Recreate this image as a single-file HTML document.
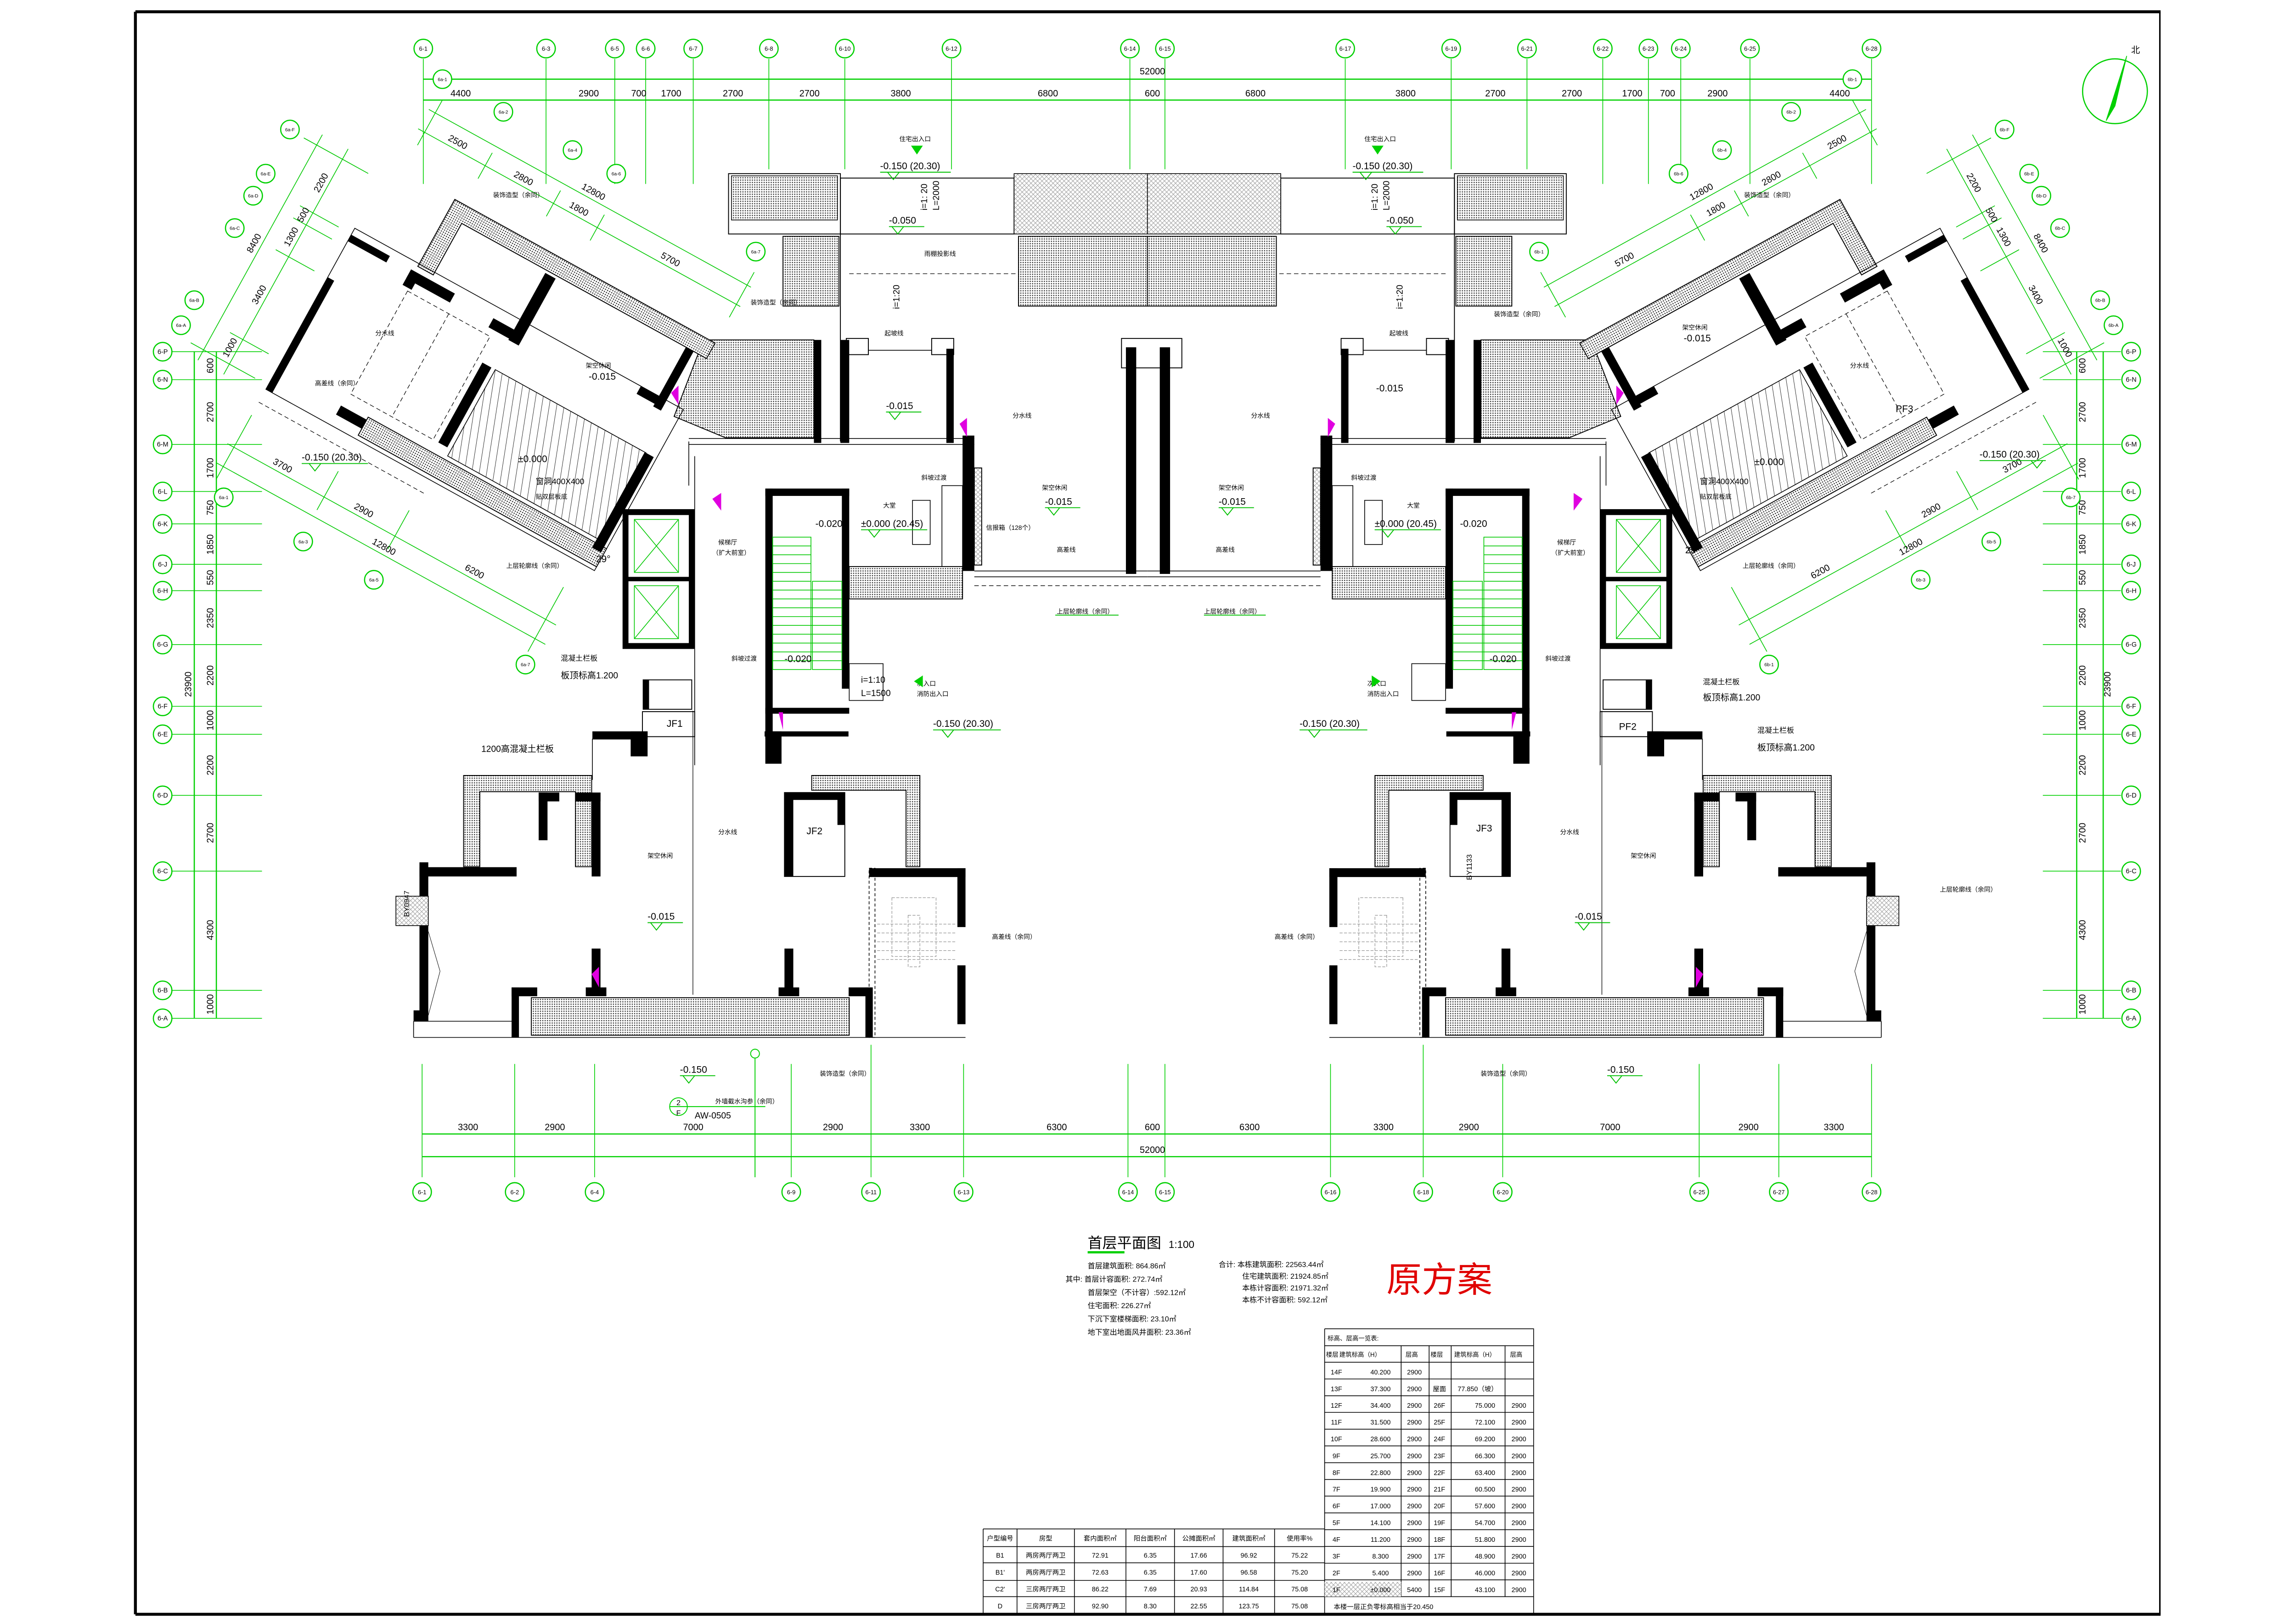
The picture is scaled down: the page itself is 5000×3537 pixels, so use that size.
<!DOCTYPE html>
<html><head><meta charset="utf-8">
<style>
html,body{margin:0;padding:0;background:#fff;}
svg{display:block;}
text{font-family:"Liberation Sans","Noto Sans CJK SC",sans-serif;}
</style></head>
<body>
<svg xmlns="http://www.w3.org/2000/svg" xmlns:xlink="http://www.w3.org/1999/xlink" width="5000" height="3537" viewBox="0 0 1560 1103.6" preserveAspectRatio="none">
<defs>
<pattern id="dots" width="1.6" height="1.6" patternUnits="userSpaceOnUse"><rect width="1.6" height="1.6" fill="#fff"/><circle cx="0.8" cy="0.8" r="0.42" fill="#333"/></pattern>
<pattern id="cross" width="3" height="3" patternUnits="userSpaceOnUse"><rect width="3" height="3" fill="#fff"/><path d="M0 0L3 3M3 0L0 3" stroke="#999" stroke-width="0.3"/></pattern>
<pattern id="diag" width="5" height="5" patternUnits="userSpaceOnUse" patternTransform="rotate(-20)"><rect width="5" height="5" fill="#fff"/><line x1="0" y1="0" x2="0" y2="5" stroke="#000" stroke-width="0.5"/></pattern>
<g id="bub"><circle r="6.3" fill="#fff" stroke="#00d000" stroke-width="0.8"/></g>

<g id="half">
 <rect x="495" y="118" width="76" height="41" fill="none" stroke="#000" stroke-width="0.6"/>
 <rect x="497" y="119.5" width="72" height="30" fill="url(#dots)" stroke="#000" stroke-width="0.5"/>
 <rect x="571" y="121" width="118" height="38" fill="none" stroke="#000" stroke-width="0.6"/>
 <rect x="689" y="118" width="90.6" height="41" fill="url(#cross)" stroke="#000" stroke-width="0.5"/>
 <rect x="532" y="160.6" width="38" height="47.4" fill="url(#dots)" stroke="#000" stroke-width="0.6"/>
 <rect x="692" y="160.6" width="87.6" height="47.4" fill="url(#dots)" stroke="#000" stroke-width="0.6"/>
 <line x1="571" y1="159" x2="571" y2="300" stroke="#000" stroke-width="0.6"/>
 <line x1="577" y1="186" x2="690" y2="186" stroke="#000" stroke-width="0.4" stroke-dasharray="3,2"/>
 <polygon points="478,231 553,231 553,297.5 493,297.5 458,283" fill="url(#dots)" stroke="#000" stroke-width="0.6"/>
 <rect x="553" y="231" width="5" height="70" fill="#000"/>
 <rect x="571" y="231" width="6" height="70" fill="#000"/>
 <rect x="575" y="230" width="15" height="11" fill="none" stroke="#000" stroke-width="0.6"/>
 <rect x="633" y="230" width="15" height="11" fill="none" stroke="#000" stroke-width="0.6"/>
 <rect x="643" y="237" width="5" height="64" fill="#000"/>
 <line x1="590" y1="238" x2="633" y2="238" stroke="#000" stroke-width="0.5"/>
 <line x1="468" y1="298" x2="662" y2="298" stroke="#000" stroke-width="0.5"/>
 <line x1="468" y1="302" x2="662" y2="302" stroke="#000" stroke-width="0.5"/>
 <rect x="654" y="296" width="8" height="92" fill="#000"/>
 <line x1="662" y1="388" x2="779.6" y2="388" stroke="#000" stroke-width="0.5"/>
 <line x1="662" y1="392" x2="779.6" y2="392" stroke="#000" stroke-width="0.5"/>
 <line x1="662" y1="398" x2="779.6" y2="398" stroke="#000" stroke-width="0.4" stroke-dasharray="3,2"/>
 <rect x="662" y="318" width="5" height="66" fill="url(#cross)" stroke="#000" stroke-width="0.6"/>
 <rect x="640" y="330" width="14" height="55" fill="none" stroke="#000" stroke-width="0.5"/>
 <rect x="620" y="340" width="12" height="30" fill="none" stroke="#000" stroke-width="0.5"/>
 <rect x="577" y="385" width="77" height="22" fill="url(#dots)" stroke="#000" stroke-width="0.6"/>
 <rect x="520" y="332" width="57" height="5" fill="#000"/>
 <rect x="520" y="332" width="5" height="170" fill="#000"/>
 <rect x="572" y="332" width="5" height="136" fill="#000"/>
 <rect x="520" y="481" width="57" height="4" fill="#000"/>
 <rect x="520" y="497" width="11" height="22" fill="#000"/>
 <g stroke="#00c800" stroke-width="0.5">
  <rect x="525" y="365" width="26" height="90" fill="none"/>
  <rect x="552" y="395" width="20" height="60" fill="none"/>
  <line x1="525" y1="371" x2="551" y2="371"/><line x1="525" y1="377" x2="551" y2="377"/><line x1="525" y1="383" x2="551" y2="383"/><line x1="525" y1="389" x2="551" y2="389"/><line x1="525" y1="395" x2="551" y2="395"/><line x1="525" y1="401" x2="572" y2="401"/><line x1="525" y1="407" x2="572" y2="407"/><line x1="525" y1="413" x2="572" y2="413"/><line x1="525" y1="419" x2="572" y2="419"/><line x1="525" y1="425" x2="572" y2="425"/><line x1="525" y1="431" x2="572" y2="431"/><line x1="525" y1="437" x2="572" y2="437"/><line x1="525" y1="443" x2="572" y2="443"/><line x1="525" y1="449" x2="572" y2="449"/>
 </g>
 <rect x="577" y="451" width="23" height="25" fill="none" stroke="#000" stroke-width="0.5"/>
 <rect x="425" y="348" width="45" height="91" fill="none" stroke="#000" stroke-width="4"/>
 <line x1="425" y1="393.5" x2="470" y2="393.5" stroke="#000" stroke-width="3"/>
 <g stroke="#00c800" stroke-width="0.5" fill="none">
  <rect x="431" y="353" width="30" height="36"/><path d="M431 353L461 389M461 353L431 389"/>
  <rect x="431" y="398" width="30" height="36"/><path d="M431 398L461 434M461 398L431 434"/>
 </g>
 <line x1="472" y1="310" x2="472" y2="520" stroke="#000" stroke-width="0.5"/>
 <line x1="468" y1="300" x2="468" y2="330" stroke="#000" stroke-width="0.5"/>
 <rect x="437" y="462" width="33" height="20" fill="none" stroke="#000" stroke-width="0.6"/>
 <rect x="437" y="462" width="4" height="20" fill="#000"/>
 <rect x="436.5" y="483.6" width="35.5" height="17" fill="none" stroke="#000" stroke-width="0.6"/>
 <rect x="402.5" y="497" width="37.5" height="5.5" fill="#000"/>
 <rect x="428.5" y="497" width="11.5" height="17" fill="#000"/>
 <rect x="519.5" y="497" width="57" height="3.5" fill="#000"/>
 <line x1="402.5" y1="502" x2="402.5" y2="530" stroke="#000" stroke-width="0.5"/>
 <path d="M315 527H402V589H391V538H326V589H315Z" fill="url(#dots)" stroke="#000" stroke-width="0.6"/>
 <rect x="285" y="589.3" width="66" height="6.3" fill="#000"/>
 <rect x="285" y="586" width="6" height="108" fill="#000"/>
 <rect x="281" y="686.6" width="10" height="7.4" fill="#000"/>
 <rect x="366" y="538.6" width="14" height="6" fill="#000"/>
 <rect x="366" y="538.6" width="6" height="32.4" fill="#000"/>
 <rect x="391" y="538.6" width="17" height="6" fill="#000"/>
 <rect x="402" y="538.6" width="6" height="57" fill="#000"/>
 <rect x="402" y="644.6" width="6" height="32" fill="#000"/>
 <rect x="398" y="671" width="14" height="6" fill="#000"/>
 <rect x="533" y="644.6" width="6" height="32" fill="#000"/>
 <rect x="529" y="671" width="14" height="6" fill="#000"/>
 <rect x="361" y="678" width="216" height="25.5" fill="url(#dots)" stroke="#000" stroke-width="0.6"/>
 <rect x="347.6" y="671" width="17.4" height="6" fill="#000"/>
 <rect x="347.6" y="671" width="5" height="34" fill="#000"/>
 <rect x="576.6" y="671" width="16" height="6" fill="#000"/>
 <rect x="588" y="671" width="5" height="34" fill="#000"/>
 <line x1="281" y1="694" x2="350" y2="694" stroke="#000" stroke-width="0.5"/>
 <line x1="281" y1="705" x2="656" y2="705" stroke="#000" stroke-width="0.5"/>
 <line x1="281" y1="705" x2="281" y2="694" stroke="#000" stroke-width="0.5"/>
 <line x1="291" y1="633" x2="299" y2="660" stroke="#000" stroke-width="0.3"/>
 <line x1="299" y1="660" x2="291" y2="690" stroke="#000" stroke-width="0.3"/>
 <rect x="269" y="609" width="22" height="20" fill="url(#cross)" stroke="#000" stroke-width="0.5"/>
 <rect x="533" y="538.6" width="41" height="57" fill="none" stroke="#000" stroke-width="0.6"/>
 <rect x="533" y="538.6" width="6" height="57" fill="#000"/>
 <rect x="533" y="538.6" width="41" height="5" fill="#000"/>
 <rect x="569" y="538.6" width="5" height="22" fill="#000"/>
 <path d="M551.5 527H625V589H615.6V537H551.5Z" fill="url(#dots)" stroke="#000" stroke-width="0.6"/>
 <rect x="590.5" y="590" width="65.5" height="6" fill="#000"/>
 <rect x="650.5" y="590" width="5.5" height="40" fill="#000"/>
 <rect x="650.5" y="656" width="5.5" height="40" fill="#000"/>
 <rect x="590.5" y="590" width="4" height="115" fill="none" stroke="#000" stroke-width="0.5" stroke-dasharray="2,1.5"/>
 <g fill="none" stroke="#888" stroke-width="0.35" stroke-dasharray="2,1">
  <rect x="606" y="610" width="30" height="40"/><rect x="617" y="622" width="8" height="35"/>
  <line x1="596" y1="628" x2="650" y2="628"/><line x1="596" y1="634" x2="650" y2="634"/><line x1="596" y1="640" x2="650" y2="640"/><line x1="596" y1="646" x2="650" y2="646"/><line x1="596" y1="652" x2="650" y2="652"/>
 </g>
 <line x1="470.8" y1="483" x2="470.8" y2="676" stroke="#000" stroke-width="0.4"/>
 <polygon points="456,267 461,262 461,275" fill="#e000e0"/>
 <polygon points="652,288 657,284 657,297" fill="#e000e0"/>
 <polygon points="484,339 490,335 490,347" fill="#e000e0"/>
 <polygon points="402,662 407,657 407,671" fill="#e000e0"/>
 <polygon points="529,484 532,484 532,496" fill="#e000e0"/>

 <g transform="translate(309,135.5) rotate(28.9)">
  <path d="M0 0H202V12H12V52H0Z" fill="url(#dots)" stroke="#000" stroke-width="0.6"/>
  <rect x="-50" y="50" width="255" height="125" fill="none" stroke="#000" stroke-width="0.5"/>
  <rect x="80" y="88" width="117" height="67" fill="url(#diag)" stroke="#000" stroke-width="0.5"/>
  <rect x="20" y="158" width="185" height="14" fill="url(#dots)" stroke="#000" stroke-width="0.6"/>
  <rect x="-50" y="55" width="30" height="5" fill="#000"/>
  <rect x="-50" y="88" width="5" height="87" fill="#000"/>
  <rect x="-3" y="56" width="34" height="7" fill="#000"/>
  <rect x="-3" y="56" width="7" height="12" fill="#000"/>
  <rect x="78" y="14" width="8" height="52" fill="#000"/>
  <rect x="62" y="58" width="24" height="7" fill="#000"/>
  <rect x="186" y="12" width="6" height="46" fill="#000"/>
  <rect x="172" y="50" width="20" height="6" fill="#000"/>
  <rect x="70" y="88" width="7" height="62" fill="#000"/>
  <rect x="196" y="88" width="7" height="74" fill="#000"/>
  <rect x="0" y="160" width="20" height="7" fill="#000"/>
  <g fill="none" stroke="#000" stroke-width="0.4" stroke-dasharray="3,2">
   <rect x="2" y="70" width="64" height="80"/><line x1="34" y1="70" x2="34" y2="150"/>
   <line x1="-50" y1="185" x2="80" y2="185"/>
  </g>
  <g stroke="#00c800" stroke-width="0.5" fill="none">
   <line x1="-45" y1="-30" x2="205" y2="-30"/><line x1="-45" y1="-45" x2="205" y2="-45"/>
   <line x1="-40" y1="-55" x2="-40" y2="-20"/><line x1="7" y1="-40" x2="7" y2="-20"/><line x1="60" y1="-40" x2="60" y2="-20"/><line x1="94" y1="-40" x2="94" y2="-20"/><line x1="202" y1="-55" x2="202" y2="-20"/>
   <line x1="-55" y1="220" x2="200" y2="220"/><line x1="-55" y1="235" x2="200" y2="235"/>
   <line x1="-50" y1="195" x2="-50" y2="245"/><line x1="20" y1="200" x2="20" y2="230"/><line x1="75" y1="200" x2="75" y2="230"/><line x1="192" y1="195" x2="192" y2="245"/>
   <line x1="-80" y1="5" x2="-80" y2="180"/><line x1="-100" y1="5" x2="-100" y2="180"/>
   <line x1="-110" y1="13" x2="-60" y2="13"/><line x1="-90" y1="54.6" x2="-60" y2="54.6"/><line x1="-90" y1="64" x2="-60" y2="64"/><line x1="-90" y1="88.7" x2="-60" y2="88.7"/><line x1="-90" y1="153" x2="-60" y2="153"/><line x1="-110" y1="172" x2="-60" y2="172"/>
  </g>
 </g>
</g>
</defs>

<rect width="1560" height="1103.6" fill="#fff"/>
<path d="M92 8H1468M92 8V1097M92 1097H1468" stroke="#000" stroke-width="2" fill="none"/>
<line x1="1467.5" y1="8" x2="1467.5" y2="1097" stroke="#000" stroke-width="1"/>

<use xlink:href="#half"/>
<use xlink:href="#half" transform="translate(1559.2,0) scale(-1,1)"/>

<rect x="762" y="230" width="41" height="20" fill="none" stroke="#000" stroke-width="0.6"/>
<rect x="765" y="236" width="7" height="154" fill="#000"/>
<rect x="788" y="236" width="7" height="154" fill="#000"/>

<g stroke="#00d000" stroke-width="0.5">
 <line x1="287.6" y1="40" x2="287.6" y2="125"/><line x1="371" y1="40" x2="371" y2="125"/><line x1="417.7" y1="40" x2="417.7" y2="125"/><line x1="438.7" y1="40" x2="438.7" y2="125"/><line x1="471" y1="40" x2="471" y2="125"/><line x1="522.4" y1="40" x2="522.4" y2="115"/><line x1="574" y1="40" x2="574" y2="115"/><line x1="646.5" y1="40" x2="646.5" y2="115"/><line x1="767.7" y1="40" x2="767.7" y2="115"/><line x1="791.5" y1="40" x2="791.5" y2="115"/><line x1="914" y1="40" x2="914" y2="115"/><line x1="986" y1="40" x2="986" y2="115"/><line x1="1037.5" y1="40" x2="1037.5" y2="115"/><line x1="1089" y1="40" x2="1089" y2="125"/><line x1="1120" y1="40" x2="1120" y2="125"/><line x1="1142" y1="40" x2="1142" y2="125"/><line x1="1189" y1="40" x2="1189" y2="125"/><line x1="1271.6" y1="40" x2="1271.6" y2="125"/>
 <line x1="287.6" y1="53.8" x2="1271.6" y2="53.8" stroke-width="0.8"/><line x1="287.6" y1="68" x2="1271.6" y2="68" stroke-width="0.8"/>
</g>
<g fill="#000" font-size="6.2" text-anchor="middle">
 <text x="783" y="50.5">52000</text>
 <text x="313" y="65.5">4400</text><text x="400" y="65.5">2900</text><text x="434" y="65.5">700</text><text x="456" y="65.5">1700</text><text x="498" y="65.5">2700</text><text x="550" y="65.5">2700</text><text x="612" y="65.5">3800</text><text x="712" y="65.5">6800</text><text x="783" y="65.5">600</text><text x="853" y="65.5">6800</text><text x="955" y="65.5">3800</text><text x="1016" y="65.5">2700</text><text x="1068" y="65.5">2700</text><text x="1109" y="65.5">1700</text><text x="1133" y="65.5">700</text><text x="1167" y="65.5">2900</text><text x="1250" y="65.5">4400</text>
</g>
<g font-size="4" text-anchor="middle" fill="#000">
 <use xlink:href="#bub" x="287.6" y="33"/><text x="287.6" y="34.5">6-1</text>
 <use xlink:href="#bub" x="371" y="33"/><text x="371" y="34.5">6-3</text>
 <use xlink:href="#bub" x="417.7" y="33"/><text x="417.7" y="34.5">6-5</text>
 <use xlink:href="#bub" x="438.7" y="33"/><text x="438.7" y="34.5">6-6</text>
 <use xlink:href="#bub" x="471" y="33"/><text x="471" y="34.5">6-7</text>
 <use xlink:href="#bub" x="522.4" y="33"/><text x="522.4" y="34.5">6-8</text>
 <use xlink:href="#bub" x="574" y="33"/><text x="574" y="34.5">6-10</text>
 <use xlink:href="#bub" x="646.5" y="33"/><text x="646.5" y="34.5">6-12</text>
 <use xlink:href="#bub" x="767.7" y="33"/><text x="767.7" y="34.5">6-14</text>
 <use xlink:href="#bub" x="791.5" y="33"/><text x="791.5" y="34.5">6-15</text>
 <use xlink:href="#bub" x="914" y="33"/><text x="914" y="34.5">6-17</text>
 <use xlink:href="#bub" x="986" y="33"/><text x="986" y="34.5">6-19</text>
 <use xlink:href="#bub" x="1037.5" y="33"/><text x="1037.5" y="34.5">6-21</text>
 <use xlink:href="#bub" x="1089" y="33"/><text x="1089" y="34.5">6-22</text>
 <use xlink:href="#bub" x="1120" y="33"/><text x="1120" y="34.5">6-23</text>
 <use xlink:href="#bub" x="1142" y="33"/><text x="1142" y="34.5">6-24</text>
 <use xlink:href="#bub" x="1189" y="33"/><text x="1189" y="34.5">6-25</text>
 <use xlink:href="#bub" x="1271.6" y="33"/><text x="1271.6" y="34.5">6-28</text>
</g>

<g stroke="#00d000" stroke-width="0.5">
 <line x1="286.8" y1="723" x2="286.8" y2="800"/><line x1="349.7" y1="723" x2="349.7" y2="800"/><line x1="404" y1="723" x2="404" y2="800"/><line x1="537.6" y1="723" x2="537.6" y2="800"/><line x1="591.8" y1="710" x2="591.8" y2="800"/><line x1="654.7" y1="723" x2="654.7" y2="800"/><line x1="766.4" y1="723" x2="766.4" y2="800"/><line x1="791.5" y1="723" x2="791.5" y2="800"/><line x1="904" y1="723" x2="904" y2="800"/><line x1="967" y1="710" x2="967" y2="800"/><line x1="1021" y1="723" x2="1021" y2="800"/><line x1="1154.5" y1="723" x2="1154.5" y2="800"/><line x1="1208.6" y1="723" x2="1208.6" y2="800"/><line x1="1271.6" y1="723" x2="1271.6" y2="800"/>
 <line x1="286.8" y1="770.6" x2="1271.6" y2="770.6" stroke-width="0.8"/><line x1="286.8" y1="786" x2="1271.6" y2="786" stroke-width="0.8"/>
</g>
<g fill="#000" font-size="6.2" text-anchor="middle">
 <text x="318" y="768">3300</text><text x="377" y="768">2900</text><text x="471" y="768">7000</text><text x="566" y="768">2900</text><text x="625" y="768">3300</text><text x="718" y="768">6300</text><text x="783" y="768">600</text><text x="849" y="768">6300</text><text x="940" y="768">3300</text><text x="998" y="768">2900</text><text x="1094" y="768">7000</text><text x="1188" y="768">2900</text><text x="1246" y="768">3300</text>
 <text x="783" y="783.5">52000</text>
</g>
<g font-size="4" text-anchor="middle" fill="#000">
 <use xlink:href="#bub" x="286.8" y="810"/><text x="286.8" y="811.5">6-1</text>
 <use xlink:href="#bub" x="349.7" y="810"/><text x="349.7" y="811.5">6-2</text>
 <use xlink:href="#bub" x="404" y="810"/><text x="404" y="811.5">6-4</text>
 <use xlink:href="#bub" x="537.6" y="810"/><text x="537.6" y="811.5">6-9</text>
 <use xlink:href="#bub" x="591.8" y="810"/><text x="591.8" y="811.5">6-11</text>
 <use xlink:href="#bub" x="654.7" y="810"/><text x="654.7" y="811.5">6-13</text>
 <use xlink:href="#bub" x="766.4" y="810"/><text x="766.4" y="811.5">6-14</text>
 <use xlink:href="#bub" x="791.5" y="810"/><text x="791.5" y="811.5">6-15</text>
 <use xlink:href="#bub" x="904" y="810"/><text x="904" y="811.5">6-16</text>
 <use xlink:href="#bub" x="967" y="810"/><text x="967" y="811.5">6-18</text>
 <use xlink:href="#bub" x="1021" y="810"/><text x="1021" y="811.5">6-20</text>
 <use xlink:href="#bub" x="1154.5" y="810"/><text x="1154.5" y="811.5">6-25</text>
 <use xlink:href="#bub" x="1208.6" y="810"/><text x="1208.6" y="811.5">6-27</text>
 <use xlink:href="#bub" x="1271.6" y="810"/><text x="1271.6" y="811.5">6-28</text>
</g>

<g stroke="#00d000" stroke-width="0.5">
 <line x1="132" y1="239" x2="132" y2="692" stroke-width="0.8"/><line x1="147" y1="239" x2="147" y2="692" stroke-width="0.8"/>
 <line x1="1411" y1="239" x2="1411" y2="692" stroke-width="0.8"/><line x1="1429" y1="239" x2="1429" y2="692" stroke-width="0.8"/>
 <path d="M117 239H178M117 258H178M117 302H178M117 334H178M117 356H178M117 383.5H178M117 401.4H178M117 438H178M117 480H178M117 499H178M117 540.5H178M117 592H178M117 673H178M117 692H178"/>
 <path d="M1388 239H1441M1388 258H1441M1388 302H1441M1388 334H1441M1388 356H1441M1388 383.5H1441M1388 401.4H1441M1388 438H1441M1388 480H1441M1388 499H1441M1388 540.5H1441M1388 592H1441M1388 673H1441M1388 692H1441"/>
</g>
<g font-size="6.2" fill="#000" text-anchor="middle">
 <g transform="translate(145,0)">
  <text transform="translate(0,248.5) rotate(-90)">600</text><text transform="translate(0,280) rotate(-90)">2700</text><text transform="translate(0,318) rotate(-90)">1700</text><text transform="translate(0,345) rotate(-90)">750</text><text transform="translate(0,370) rotate(-90)">1850</text><text transform="translate(0,392.5) rotate(-90)">550</text><text transform="translate(0,420) rotate(-90)">2350</text><text transform="translate(0,459) rotate(-90)">2200</text><text transform="translate(0,489.5) rotate(-90)">1000</text><text transform="translate(0,520) rotate(-90)">2200</text><text transform="translate(0,566) rotate(-90)">2700</text><text transform="translate(0,632) rotate(-90)">4300</text><text transform="translate(0,682.5) rotate(-90)">1000</text>
 </g>
 <text transform="translate(130,465) rotate(-90)">23900</text>
 <g transform="translate(1417,0)">
  <text transform="translate(0,248.5) rotate(-90)">600</text><text transform="translate(0,280) rotate(-90)">2700</text><text transform="translate(0,318) rotate(-90)">1700</text><text transform="translate(0,345) rotate(-90)">750</text><text transform="translate(0,370) rotate(-90)">1850</text><text transform="translate(0,392.5) rotate(-90)">550</text><text transform="translate(0,420) rotate(-90)">2350</text><text transform="translate(0,459) rotate(-90)">2200</text><text transform="translate(0,489.5) rotate(-90)">1000</text><text transform="translate(0,520) rotate(-90)">2200</text><text transform="translate(0,566) rotate(-90)">2700</text><text transform="translate(0,632) rotate(-90)">4300</text><text transform="translate(0,682.5) rotate(-90)">1000</text>
 </g>
 <text transform="translate(1434,465) rotate(-90)">23900</text>
</g>
<g font-size="4.5" text-anchor="middle" fill="#000">
 <use xlink:href="#bub" x="110.5" y="239"/><text x="110.5" y="240.5">6-P</text>
 <use xlink:href="#bub" x="110.5" y="258"/><text x="110.5" y="259.5">6-N</text>
 <use xlink:href="#bub" x="110.5" y="302"/><text x="110.5" y="303.5">6-M</text>
 <use xlink:href="#bub" x="110.5" y="334"/><text x="110.5" y="335.5">6-L</text>
 <use xlink:href="#bub" x="110.5" y="356"/><text x="110.5" y="357.5">6-K</text>
 <use xlink:href="#bub" x="110.5" y="383.5"/><text x="110.5" y="385">6-J</text>
 <use xlink:href="#bub" x="110.5" y="401.4"/><text x="110.5" y="403">6-H</text>
 <use xlink:href="#bub" x="110.5" y="438"/><text x="110.5" y="439.5">6-G</text>
 <use xlink:href="#bub" x="110.5" y="480"/><text x="110.5" y="481.5">6-F</text>
 <use xlink:href="#bub" x="110.5" y="499"/><text x="110.5" y="500.5">6-E</text>
 <use xlink:href="#bub" x="110.5" y="540.5"/><text x="110.5" y="542">6-D</text>
 <use xlink:href="#bub" x="110.5" y="592"/><text x="110.5" y="593.5">6-C</text>
 <use xlink:href="#bub" x="110.5" y="673"/><text x="110.5" y="674.5">6-B</text>
 <use xlink:href="#bub" x="110.5" y="692"/><text x="110.5" y="693.5">6-A</text>
 <use xlink:href="#bub" x="1448" y="239"/><text x="1448" y="240.5">6-P</text>
 <use xlink:href="#bub" x="1448" y="258"/><text x="1448" y="259.5">6-N</text>
 <use xlink:href="#bub" x="1448" y="302"/><text x="1448" y="303.5">6-M</text>
 <use xlink:href="#bub" x="1448" y="334"/><text x="1448" y="335.5">6-L</text>
 <use xlink:href="#bub" x="1448" y="356"/><text x="1448" y="357.5">6-K</text>
 <use xlink:href="#bub" x="1448" y="383.5"/><text x="1448" y="385">6-J</text>
 <use xlink:href="#bub" x="1448" y="401.4"/><text x="1448" y="403">6-H</text>
 <use xlink:href="#bub" x="1448" y="438"/><text x="1448" y="439.5">6-G</text>
 <use xlink:href="#bub" x="1448" y="480"/><text x="1448" y="481.5">6-F</text>
 <use xlink:href="#bub" x="1448" y="499"/><text x="1448" y="500.5">6-E</text>
 <use xlink:href="#bub" x="1448" y="540.5"/><text x="1448" y="542">6-D</text>
 <use xlink:href="#bub" x="1448" y="592"/><text x="1448" y="593.5">6-C</text>
 <use xlink:href="#bub" x="1448" y="673"/><text x="1448" y="674.5">6-B</text>
 <use xlink:href="#bub" x="1448" y="692"/><text x="1448" y="693.5">6-A</text>
</g>

<g font-size="3.2" text-anchor="middle" fill="#000">
 <use xlink:href="#bub" x="300.6" y="53.8"/><text x="300.6" y="55">6a-1</text>
 <use xlink:href="#bub" x="342" y="76"/><text x="342" y="77.2">6a-2</text>
 <use xlink:href="#bub" x="389" y="102"/><text x="389" y="103.2">6a-4</text>
 <use xlink:href="#bub" x="418.7" y="118"/><text x="418.7" y="119.2">6a-6</text>
 <use xlink:href="#bub" x="513.5" y="171"/><text x="513.5" y="172.2">6a-7</text>
 <use xlink:href="#bub" x="197" y="88"/><text x="197" y="89.2">6a-F</text>
 <use xlink:href="#bub" x="180.5" y="118"/><text x="180.5" y="119.2">6a-E</text>
 <use xlink:href="#bub" x="172" y="133"/><text x="172" y="134.2">6a-D</text>
 <use xlink:href="#bub" x="159.5" y="155"/><text x="159.5" y="156.2">6a-C</text>
 <use xlink:href="#bub" x="132" y="204"/><text x="132" y="205.2">6a-B</text>
 <use xlink:href="#bub" x="123" y="221"/><text x="123" y="222.2">6a-A</text>
 <use xlink:href="#bub" x="152" y="338"/><text x="152" y="339.2">6a-1</text>
 <use xlink:href="#bub" x="206" y="368"/><text x="206" y="369.2">6a-3</text>
 <use xlink:href="#bub" x="254" y="394"/><text x="254" y="395.2">6a-5</text>
 <use xlink:href="#bub" x="357" y="451.6"/><text x="357" y="452.8">6a-7</text>
 <use xlink:href="#bub" x="1258.6" y="53.8"/><text x="1258.6" y="55">6b-1</text>
 <use xlink:href="#bub" x="1217" y="76"/><text x="1217" y="77.2">6b-2</text>
 <use xlink:href="#bub" x="1170" y="102"/><text x="1170" y="103.2">6b-4</text>
 <use xlink:href="#bub" x="1140.5" y="118"/><text x="1140.5" y="119.2">6b-6</text>
 <use xlink:href="#bub" x="1045.7" y="171"/><text x="1045.7" y="172.2">6b-1</text>
 <use xlink:href="#bub" x="1362" y="88"/><text x="1362" y="89.2">6b-F</text>
 <use xlink:href="#bub" x="1378.7" y="118"/><text x="1378.7" y="119.2">6b-E</text>
 <use xlink:href="#bub" x="1387" y="133"/><text x="1387" y="134.2">6b-D</text>
 <use xlink:href="#bub" x="1399.7" y="155"/><text x="1399.7" y="156.2">6b-C</text>
 <use xlink:href="#bub" x="1427" y="204"/><text x="1427" y="205.2">6b-B</text>
 <use xlink:href="#bub" x="1436" y="221"/><text x="1436" y="222.2">6b-A</text>
 <use xlink:href="#bub" x="1407" y="338"/><text x="1407" y="339.2">6b-7</text>
 <use xlink:href="#bub" x="1353" y="368"/><text x="1353" y="369.2">6b-5</text>
 <use xlink:href="#bub" x="1305" y="394"/><text x="1305" y="395.2">6b-3</text>
 <use xlink:href="#bub" x="1202" y="451.6"/><text x="1202" y="452.8">6b-1</text>
</g>

<g font-size="6.2" fill="#000" text-anchor="middle">
 <g transform="translate(309,135.5) rotate(28.9)">
  <text x="-17" y="-33">2500</text><text x="34" y="-33">2800</text><text x="77" y="-33">1800</text><text x="148" y="-33">5700</text><text x="80" y="-48">12800</text>
  <text x="-15" y="217">3700</text><text x="48" y="217">2900</text><text x="134" y="217">6200</text><text x="72" y="232">12800</text>
  <text transform="translate(-83,34) rotate(-90)">2200</text><text transform="translate(-83,59) rotate(-90)">500</text><text transform="translate(-83,76) rotate(-90)">1300</text><text transform="translate(-83,121) rotate(-90)">3400</text><text transform="translate(-83,162) rotate(-90)">1000</text><text transform="translate(-103,92) rotate(-90)">8400</text>
 </g>
 <g transform="translate(1250.2,135.5) rotate(-28.9)">
  <text x="17" y="-33">2500</text><text x="-34" y="-33">2800</text><text x="-77" y="-33">1800</text><text x="-148" y="-33">5700</text><text x="-80" y="-48">12800</text>
  <text x="15" y="217">3700</text><text x="-48" y="217">2900</text><text x="-134" y="217">6200</text><text x="-72" y="232">12800</text>
  <text transform="translate(83,34) rotate(90)">2200</text><text transform="translate(83,59) rotate(90)">500</text><text transform="translate(83,76) rotate(90)">1300</text><text transform="translate(83,121) rotate(90)">3400</text><text transform="translate(83,162) rotate(90)">1000</text><text transform="translate(103,92) rotate(90)">8400</text>
 </g>
</g>

<g font-size="4.3" fill="#000">
 <text x="611" y="96">住宅出入口</text><text x="927" y="96">住宅出入口</text>
 <text x="628" y="174">雨棚投影线</text>
 <text x="510" y="207">装饰造型（余同）</text><text x="1015" y="215">装饰造型（余同）</text>
 <text x="601" y="228">起坡线</text><text x="944" y="228">起坡线</text>
 <text x="688" y="284">分水线</text><text x="850" y="284">分水线</text>
 <text x="626" y="326">斜坡过渡</text><text x="918" y="326">斜坡过渡</text>
 <text x="708" y="333">架空休闲</text><text x="828" y="333">架空休闲</text>
 <text x="600" y="345">大堂</text><text x="956" y="345">大堂</text>
 <text x="488" y="370">候梯厅</text><text x="484" y="377">（扩大前室）</text>
 <text x="1058" y="370">候梯厅</text><text x="1054" y="377">（扩大前室）</text>
 <text x="670" y="360">信报箱（128个）</text>
 <text x="718" y="375">高差线</text><text x="826" y="375">高差线</text>
 <text x="718" y="417">上层轮廓线（余同）</text><text x="818" y="417">上层轮廓线（余同）</text>
 <text x="497" y="449">斜坡过渡</text><text x="1050" y="449">斜坡过渡</text>
 <text x="623" y="466">次入口</text><text x="623" y="473">消防出入口</text>
 <text x="929" y="466">次入口</text><text x="929" y="473">消防出入口</text>
 <text x="381" y="449" font-size="5">混凝土栏板</text><text x="381" y="461" font-size="6">板顶标高1.200</text>
 <text x="1157" y="465" font-size="5">混凝土栏板</text><text x="1157" y="476" font-size="6">板顶标高1.200</text>
 <text x="1194" y="498" font-size="5">混凝土栏板</text><text x="1194" y="510" font-size="6">板顶标高1.200</text>
 <text x="327" y="511" font-size="6">1200高混凝土栏板</text>
 <text x="488" y="567">分水线</text><text x="1060" y="567">分水线</text>
 <text x="440" y="583">架空休闲</text><text x="1108" y="583">架空休闲</text>
 <text x="674" y="638">高差线（余同）</text><text x="866" y="638">高差线（余同）</text>
 <text x="1318" y="606">上层轮廓线（余同）</text>
 <text x="557" y="731">装饰造型（余同）</text><text x="1006" y="731">装饰造型（余同）</text>
 <text x="486" y="750">外墙截水沟参（余同）</text><text x="472" y="760" font-size="6">AW-0505</text>
 <text x="335" y="134">装饰造型（余同）</text><text x="1185" y="134">装饰造型（余同）</text>
 <text x="255" y="228">分水线</text><text x="1257" y="250">分水线</text>
 <text x="214" y="262">高差线（余同）</text>
 <text x="398" y="250">架空休闲</text><text x="1143" y="224">架空休闲</text>
 <text x="344" y="386">上层轮廓线（余同）</text><text x="1184" y="386">上层轮廓线（余同）</text>
 <text x="364" y="329" font-size="5.5">窗洞400X400</text><text x="364" y="339">贴双层板底</text>
 <text x="1155" y="329" font-size="5.5">窗洞400X400</text><text x="1155" y="339">贴双层板底</text>
</g>
<g font-size="6.5" fill="#000">
 <text x="598" y="115">-0.150 (20.30)</text><text x="919" y="115">-0.150 (20.30)</text>
 <text x="604" y="152">-0.050</text><text x="942" y="152">-0.050</text>
 <text x="602" y="278">-0.015</text><text x="935" y="266">-0.015</text>
 <text x="710" y="343">-0.015</text><text x="828" y="343">-0.015</text>
 <text x="585" y="358">±0.000 (20.45)</text><text x="934" y="358">±0.000 (20.45)</text>
 <text x="554" y="358">-0.020</text><text x="992" y="358">-0.020</text>
 <text x="533" y="450">-0.020</text><text x="1012" y="450">-0.020</text>
 <text x="585" y="464" font-size="6">i=1:10</text><text x="585" y="473" font-size="6">L=1500</text>
 <text x="634" y="494">-0.150 (20.30)</text><text x="883" y="494">-0.150 (20.30)</text>
 <text x="440" y="625">-0.015</text><text x="1070" y="625">-0.015</text>
 <text x="462" y="729">-0.150</text><text x="1092" y="729">-0.150</text>
 <text x="400" y="258">-0.015</text><text x="1144" y="232">-0.015</text>
 <text x="352" y="314">±0.000</text><text x="1192" y="316">±0.000</text>
 <text x="205" y="313">-0.150 (20.30)</text><text x="1345" y="311">-0.150 (20.30)</text>
 <text x="405" y="382">29°</text><text x="1145" y="376">29°</text>
 <text x="453" y="494">JF1</text><text x="1100" y="496">PF2</text>
 <text x="548" y="567">JF2</text><text x="1003" y="565">JF3</text>
 <text x="1288" y="280">PF3</text>
</g>
<g font-size="6" fill="#000">
 <text transform="translate(630,143) rotate(-90)">i=1: 20</text><text transform="translate(638,143) rotate(-90)">L=2000</text>
 <text transform="translate(936,143) rotate(-90)">i=1: 20</text><text transform="translate(944,143) rotate(-90)">L=2000</text>
 <text transform="translate(611,210) rotate(-90)">i=1:20</text><text transform="translate(953,210) rotate(-90)">i=1:20</text>
</g>
<g fill="none" stroke="#00c000" stroke-width="0.6">
 <path d="M598 117H646M603 117L607 122L611 117"/><path d="M919 117H967M924 117L928 122L932 117"/>
 <path d="M604 154H628M606 154L610 159L614 154"/><path d="M942 154H966M944 154L948 159L952 154"/>
 <path d="M602 280H626M604 280L608 285L612 280"/><path d="M710 345H734M712 345L716 350L720 345"/><path d="M828 345H852M830 345L834 350L838 345"/>
 <path d="M585 360H630M590 360L594 365L598 360"/><path d="M934 360H979M939 360L943 365L947 360"/>
 <path d="M634 496H680M640 496L644 501L648 496"/><path d="M883 496H929M889 496L893 501L897 496"/>
 <path d="M440 627H464M442 627L446 632L450 627"/><path d="M1070 627H1094M1072 627L1076 632L1080 627"/>
 <path d="M462 731H486M464 731L468 736L472 731"/><path d="M1092 731H1116M1094 731L1098 736L1102 731"/>
 <path d="M205 315H250M210 315L214 320L218 315"/><path d="M1345 313H1390M1380 313L1384 318L1388 313"/>
 <path d="M717 418H760M818 418H860"/>
</g>
<polygon points="619,99 627,99 623,105" fill="#00d000"/><polygon points="932,99 940,99 936,105" fill="#00d000"/>
<polygon points="621,463 627,459 627,467" fill="#00d000"/><polygon points="938,463 932,459 932,467" fill="#00d000"/>
<g fill="none" stroke="#00d000" stroke-width="0.6"><circle cx="513" cy="716" r="3"/><line x1="513" y1="719" x2="513" y2="800"/><circle cx="461" cy="752" r="6"/><line x1="455" y1="752" x2="520" y2="752"/></g>
<text x="461" y="751" font-size="5" text-anchor="middle">2</text><text x="461" y="758" font-size="5" text-anchor="middle">F</text>
<text transform="translate(278,623) rotate(-90)" font-size="5">BY0947</text>
<text transform="translate(1000,598) rotate(-90)" font-size="5">BY1133</text>

<circle cx="1437" cy="62" r="22" fill="none" stroke="#00d000" stroke-width="0.8"/>
<polygon points="1445,38 1431,82 1437,72" fill="#00d000" stroke="#00d000" stroke-width="0.5"/>
<text x="1448" y="36" font-size="6">北</text>

<text x="739" y="848" font-size="10">首层平面图</text><text x="794" y="848" font-size="7">1:100</text>
<line x1="739" y1="851" x2="764" y2="851" stroke="#00d000" stroke-width="1.5"/>
<g font-size="5" fill="#000">
 <text x="739" y="862">首层建筑面积: 864.86㎡</text>
 <text x="724" y="871">其中: 首层计容面积: 272.74㎡</text>
 <text x="739" y="880">首层架空（不计容）:592.12㎡</text>
 <text x="739" y="889">住宅面积: 226.27㎡</text>
 <text x="739" y="898">下沉下室楼梯面积: 23.10㎡</text>
 <text x="739" y="907">地下室出地面风井面积: 23.36㎡</text>
 <text x="828" y="861">合计: 本栋建筑面积: 22563.44㎡</text>
 <text x="844" y="869">住宅建筑面积: 21924.85㎡</text>
 <text x="844" y="877">本栋计容面积: 21971.32㎡</text>
 <text x="844" y="885">本栋不计容面积: 592.12㎡</text>
</g>
<text x="942" y="878" font-size="24" fill="#e00000" font-family="Liberation Serif,Noto Serif CJK SC,serif">原方案</text>

<g stroke="#000" stroke-width="0.5" fill="none">
 <path d="M900 903H1042V1096.5M900 903V1096.5M900 914.5H1042M900 925.7H1042"/>
 <path d="M900 937.1H1042M900 948.5H1042M900 959.8H1042M900 971.2H1042M900 982.6H1042M900 994H1042M900 1005.4H1042M900 1016.7H1042M900 1028.1H1042M900 1039.5H1042M900 1050.9H1042M900 1062.3H1042M900 1073.6H1042M900 1085H1042"/>
 <path d="M952 914.5V1085M971 914.5V1085M986 914.5V1085M1022.6 914.5V1085"/>
 <path d="M668 1039V1096.5H900M668 1039H900M668 1051H900M668 1062H900M668 1074H900M668 1085H900"/>
 <path d="M691 1039V1096.5M730 1039V1096.5M765 1039V1096.5M798 1039V1096.5M831 1039V1096.5M866 1039V1096.5"/>
</g>
<rect x="900" y="1075" width="52" height="10" fill="url(#cross)"/>
<g font-size="4.2" fill="#000">
 <text x="902" y="911">标高、层高一览表:</text>
 <text x="901" y="922">楼层</text><text x="910" y="922">建筑标高（H）</text><text x="955" y="922">层高</text><text x="972" y="922">楼层</text><text x="988" y="922">建筑标高（H）</text><text x="1026" y="922">层高</text>
</g>
<g font-size="4.5" fill="#000" text-anchor="middle">
 <text x="908" y="934">14F</text><text x="938" y="934">40.200</text><text x="961" y="934">2900</text>
 <text x="908" y="945.4">13F</text><text x="938" y="945.4">37.300</text><text x="961" y="945.4">2900</text><text x="978" y="945.4">屋面</text><text x="1004" y="945.4">77.850（坡）</text>
 <text x="908" y="956.7">12F</text><text x="938" y="956.7">34.400</text><text x="961" y="956.7">2900</text><text x="978" y="956.7">26F</text><text x="1009" y="956.7">75.000</text><text x="1032" y="956.7">2900</text>
 <text x="908" y="968.1">11F</text><text x="938" y="968.1">31.500</text><text x="961" y="968.1">2900</text><text x="978" y="968.1">25F</text><text x="1009" y="968.1">72.100</text><text x="1032" y="968.1">2900</text>
 <text x="908" y="979.5">10F</text><text x="938" y="979.5">28.600</text><text x="961" y="979.5">2900</text><text x="978" y="979.5">24F</text><text x="1009" y="979.5">69.200</text><text x="1032" y="979.5">2900</text>
 <text x="908" y="990.9">9F</text><text x="938" y="990.9">25.700</text><text x="961" y="990.9">2900</text><text x="978" y="990.9">23F</text><text x="1009" y="990.9">66.300</text><text x="1032" y="990.9">2900</text>
 <text x="908" y="1002.3">8F</text><text x="938" y="1002.3">22.800</text><text x="961" y="1002.3">2900</text><text x="978" y="1002.3">22F</text><text x="1009" y="1002.3">63.400</text><text x="1032" y="1002.3">2900</text>
 <text x="908" y="1013.6">7F</text><text x="938" y="1013.6">19.900</text><text x="961" y="1013.6">2900</text><text x="978" y="1013.6">21F</text><text x="1009" y="1013.6">60.500</text><text x="1032" y="1013.6">2900</text>
 <text x="908" y="1025">6F</text><text x="938" y="1025">17.000</text><text x="961" y="1025">2900</text><text x="978" y="1025">20F</text><text x="1009" y="1025">57.600</text><text x="1032" y="1025">2900</text>
 <text x="908" y="1036.4">5F</text><text x="938" y="1036.4">14.100</text><text x="961" y="1036.4">2900</text><text x="978" y="1036.4">19F</text><text x="1009" y="1036.4">54.700</text><text x="1032" y="1036.4">2900</text>
 <text x="908" y="1047.8">4F</text><text x="938" y="1047.8">11.200</text><text x="961" y="1047.8">2900</text><text x="978" y="1047.8">18F</text><text x="1009" y="1047.8">51.800</text><text x="1032" y="1047.8">2900</text>
 <text x="908" y="1059.2">3F</text><text x="938" y="1059.2">8.300</text><text x="961" y="1059.2">2900</text><text x="978" y="1059.2">17F</text><text x="1009" y="1059.2">48.900</text><text x="1032" y="1059.2">2900</text>
 <text x="908" y="1070.5">2F</text><text x="938" y="1070.5">5.400</text><text x="961" y="1070.5">2900</text><text x="978" y="1070.5">16F</text><text x="1009" y="1070.5">46.000</text><text x="1032" y="1070.5">2900</text>
 <text x="908" y="1081.9">1F</text><text x="938" y="1081.9">±0.000</text><text x="961" y="1081.9">5400</text><text x="978" y="1081.9">15F</text><text x="1009" y="1081.9">43.100</text><text x="1032" y="1081.9">2900</text>
 <text x="940" y="1093.5">本楼一层正负零标高相当于20.450</text>
 <text x="679.5" y="1047">户型编号</text><text x="710.5" y="1047">房型</text><text x="747.5" y="1047">套内面积㎡</text><text x="781.5" y="1047">阳台面积㎡</text><text x="814.5" y="1047">公摊面积㎡</text><text x="848.5" y="1047">建筑面积㎡</text><text x="883" y="1047">使用率%</text>
 <text x="679.5" y="1058.5">B1</text><text x="710.5" y="1058.5">两房两厅两卫</text><text x="747.5" y="1058.5">72.91</text><text x="781.5" y="1058.5">6.35</text><text x="814.5" y="1058.5">17.66</text><text x="848.5" y="1058.5">96.92</text><text x="883" y="1058.5">75.22</text>
 <text x="679.5" y="1070">B1'</text><text x="710.5" y="1070">两房两厅两卫</text><text x="747.5" y="1070">72.63</text><text x="781.5" y="1070">6.35</text><text x="814.5" y="1070">17.60</text><text x="848.5" y="1070">96.58</text><text x="883" y="1070">75.20</text>
 <text x="679.5" y="1081.5">C2'</text><text x="710.5" y="1081.5">三房两厅两卫</text><text x="747.5" y="1081.5">86.22</text><text x="781.5" y="1081.5">7.69</text><text x="814.5" y="1081.5">20.93</text><text x="848.5" y="1081.5">114.84</text><text x="883" y="1081.5">75.08</text>
 <text x="679.5" y="1093">D</text><text x="710.5" y="1093">三房两厅两卫</text><text x="747.5" y="1093">92.90</text><text x="781.5" y="1093">8.30</text><text x="814.5" y="1093">22.55</text><text x="848.5" y="1093">123.75</text><text x="883" y="1093">75.08</text>
</g>
</svg>
</body></html>
